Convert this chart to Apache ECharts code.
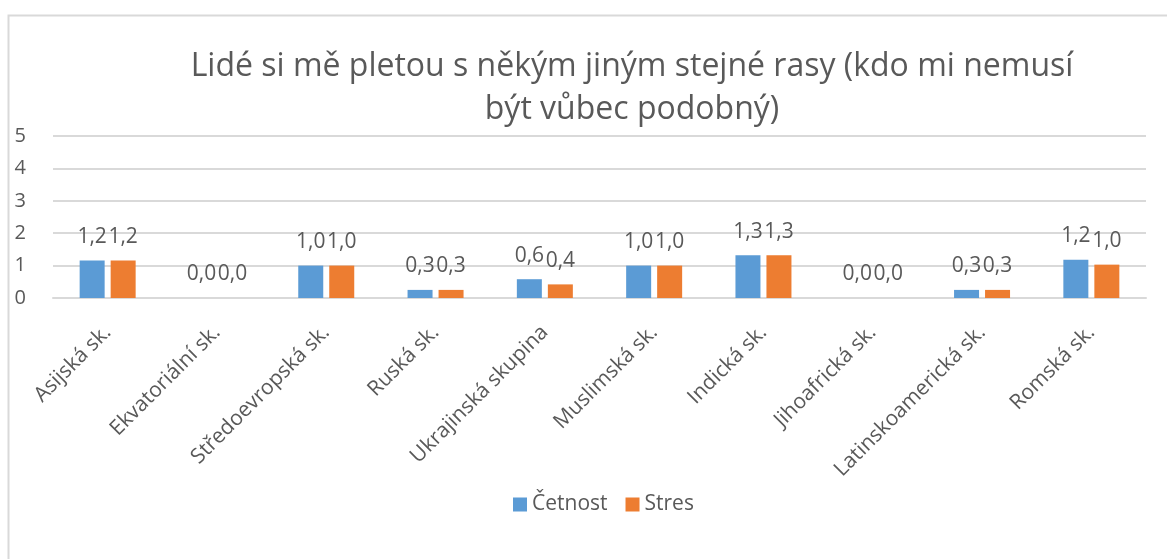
<!DOCTYPE html>
<html>
<head>
<meta charset="utf-8">
<script src="https://cdn.jsdelivr.net/npm/echarts@6/dist/echarts.min.js"></script>
<style>
  html, body { margin: 0; padding: 0; background: #fff; }
  #chart { width: 1167px; height: 559px; }
</style>
</head>
<body>
<div id="chart"></div>
<script>
  // kategorie a hodnoty
  var categories = ['Asijská sk.', 'Ekvatoriální sk.', 'Středoevropská sk.', 'Ruská sk.', 'Ukrajinská skupina',
    'Muslimská sk.', 'Indická sk.', 'Jihoafrická sk.', 'Latinskoamerická sk.', 'Romská sk.'];
  var cetnost = [1.16, 0, 1.0, 0.25, 0.58, 1.0, 1.32, 0, 0.25, 1.18];
  var stres = [1.16, 0, 1.0, 0.25, 0.42, 1.0, 1.32, 0, 0.25, 1.03];
  var yTicks = [0, 1, 2, 3, 4, 5];

  var textColor = '#595959';
  var font = '"Open Sans", "Noto Sans", sans-serif';

  function labelFmt(p) {
    return p.value.toFixed(1).replace('.', ',');
  }

  var chart = echarts.init(document.getElementById('chart'));

  var option = {
    backgroundColor: '#fff',
    animation: false,
    textStyle: {fontFamily: font, color: textColor},
    graphic: [
      {
        type: 'rect',
        shape: {x: 8.5, y: 15.5, width: 1200, height: 600},
        style: {fill: 'none', stroke: '#d9d9d9', lineWidth: 2},
        silent: true
      }
    ],
    title: {
      text: 'Lidé si mě pletou s někým jiným stejné rasy (kdo mi nemusí\nbýt vůbec podobný)',
      left: 627,
      top: 40,
      textAlign: 'center',
      textStyle: {
        fontFamily: font,
        fontWeight: 'normal',
        fontSize: 32,
        lineHeight: 43,
        color: textColor
      }
    },
    legend: {
      data: ['Četnost', 'Stres'],
      top: 489,
      left: 508,
      itemWidth: 14,
      itemHeight: 14,
      itemGap: 18,
      icon: 'rect',
      textStyle: {fontFamily: font, fontSize: 21, color: textColor}
    },
    grid: {left: 53, right: 21, top: 136, bottom: 261, containLabel: false},
    xAxis: {
      type: 'category',
      data: categories,
      axisLine: {show: true, lineStyle: {color: '#d9d9d9', width: 2}},
      axisTick: {show: false},
      axisLabel: {
        rotate: 45,
        interval: 0,
        margin: 31,
        fontFamily: font,
        fontSize: 21,
        color: textColor
      }
    },
    yAxis: {
      type: 'value',
      min: yTicks[0],
      max: yTicks[yTicks.length - 1],
      interval: 1,
      axisLine: {show: false},
      axisTick: {show: false},
      splitLine: {lineStyle: {color: '#d9d9d9', width: 2}},
      axisLabel: {
        fontFamily: font,
        fontSize: 20,
        color: textColor,
        margin: 27
      }
    },
    series: [
      {
        name: 'Četnost',
        type: 'bar',
        data: cetnost,
        barWidth: 25,
        barGap: '24%',
        itemStyle: {color: '#5B9BD5'},
        label: {
          show: true,
          position: 'top',
          distance: 13,
          formatter: labelFmt,
          fontFamily: font,
          fontSize: 21,
          color: textColor
        }
      },
      {
        name: 'Stres',
        type: 'bar',
        data: stres,
        barWidth: 25,
        barGap: '24%',
        itemStyle: {color: '#ED7D31'},
        label: {
          show: true,
          position: 'top',
          distance: 13,
          formatter: labelFmt,
          fontFamily: font,
          fontSize: 21,
          color: textColor
        }
      }
    ]
  };

  chart.setOption(option);
  window.addEventListener('resize', function () {
    chart.resize();
  });
</script>
</body>
</html>
